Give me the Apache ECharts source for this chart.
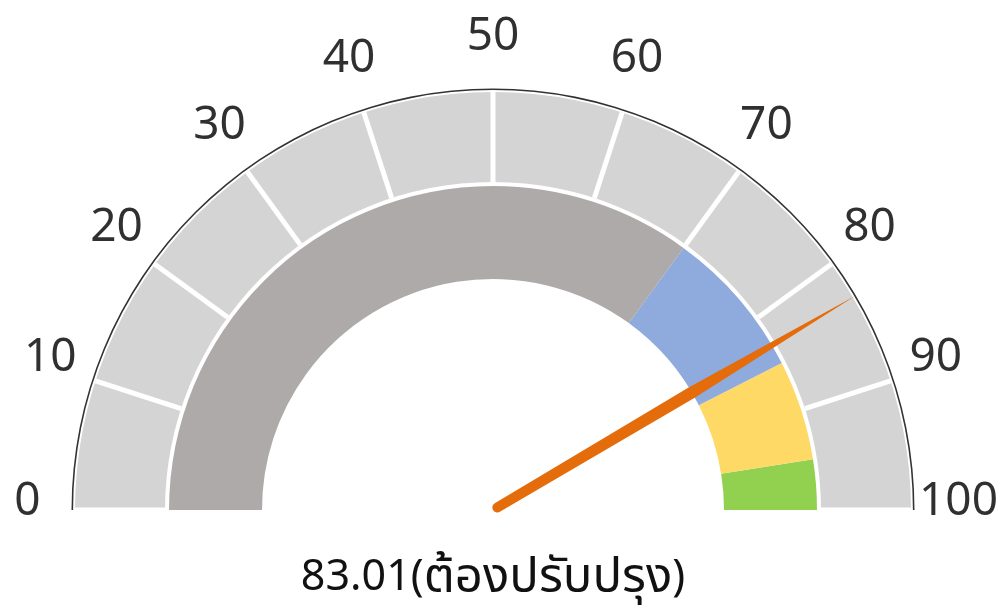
<!DOCTYPE html>
<html><head><meta charset="utf-8">
<script src="https://cdn.jsdelivr.net/npm/echarts@6/dist/echarts.min.js"></script>
<style>html,body{margin:0;padding:0;background:#fff}#c{width:1006px;height:608px}</style>
</head><body><div id="c"></div>
<script>
// ---- data ----
const tickValues = [0, 10, 20, 30, 40, 50, 60, 70, 80, 90, 100];
const scoreValue = 83.01;
const statusText = 'ต้องปรับปรุง';
const bandLimits = [70, 85, 95, 100];
const bandColors = ['#aeaaaa', '#8faadc', '#ffd966', '#92d050'];

// ---- derived ----
const axisMin = tickValues[0];
const axisMax = tickValues[tickValues.length - 1];
const splitCount = tickValues.length - 1;
const bandStops = bandLimits.map((v, i) => [(v - axisMin) / (axisMax - axisMin), bandColors[i]]);

const FONT = "'Noto Sans', 'Noto Sans Thai', 'Kanit', 'Prompt', 'Open Sans', sans-serif";
const CX = 493, CY = 510;

const base = {
  type: 'gauge', startAngle: 180, endAngle: 0, min: axisMin, max: axisMax,
  splitNumber: splitCount, center: [CX, CY], animation: false,
  axisTick: { show: false }, axisLabel: { show: false }, splitLine: { show: false },
  pointer: { show: false }, anchor: { show: false }, title: { show: false }, detail: { show: false },
  progress: { show: false }
};

const chart = echarts.init(document.getElementById('c'), null, { renderer: 'canvas' });
chart.setOption({
  backgroundColor: '#ffffff',
  animation: false,
  series: [
    // outer light band with white dividers
    Object.assign({}, base, {
      radius: 418,
      axisLine: { lineStyle: { width: 90, color: [[1, '#d4d4d4']] } },
      splitLine: { show: true, length: 90, distance: -90, lineStyle: { color: '#ffffff', width: 5 } },
      data: [{ value: scoreValue }]
    }),
    // thin dark outer arc
    Object.assign({}, base, {
      radius: 421.5,
      axisLine: { lineStyle: { width: 1.6, color: [[1, '#333333']] } },
      data: [{ value: scoreValue }]
    }),
    // inner coloured band
    Object.assign({}, base, {
      radius: 324,
      axisLine: { lineStyle: { width: 93, color: bandStops } },
      data: [{ value: scoreValue }]
    }),
    // tick labels
    Object.assign({}, base, {
      center: [CX, 502],
      radius: 466,
      axisLine: { show: false, lineStyle: { width: 0 } },
      splitLine: { show: false, length: 0, distance: 0 },
      axisLabel: {
        show: true, distance: 0,
        formatter: v => '{t|' + v + '}',
        rich: { t: { width: 1, height: 1, lineHeight: 1, align: 'center', verticalAlign: 'middle',
                     fontSize: 46, fontFamily: FONT, color: '#303030' } }
      },
      data: [{ value: scoreValue }]
    }),
    // needle + value text
    Object.assign({}, base, {
      radius: 421,
      axisLine: { show: false, lineStyle: { width: 0 } },
      pointer: {
        show: true,
        icon: 'path://M6,0 L12,191 L11,415.5 A5,5 0 0 1 1,415.5 L0,191 Z',
        length: 421, width: 12,
        itemStyle: { color: '#e46c0a' }
      },
      detail: {
        show: true, offsetCenter: [0, 68], fontWeight: 'normal',
        formatter: v => '{n|' + v.toFixed(2) + '(}{t|' + statusText + '}{n|)}',
        rich: {
          n: { fontSize: 43, fontWeight: 'normal', fontFamily: FONT, color: '#111111' },
          t: { fontSize: 49, fontWeight: 'normal', fontFamily: FONT, color: '#111111' }
        }
      },
      data: [{ value: scoreValue }]
    })
  ]
});
</script>
</body></html>
